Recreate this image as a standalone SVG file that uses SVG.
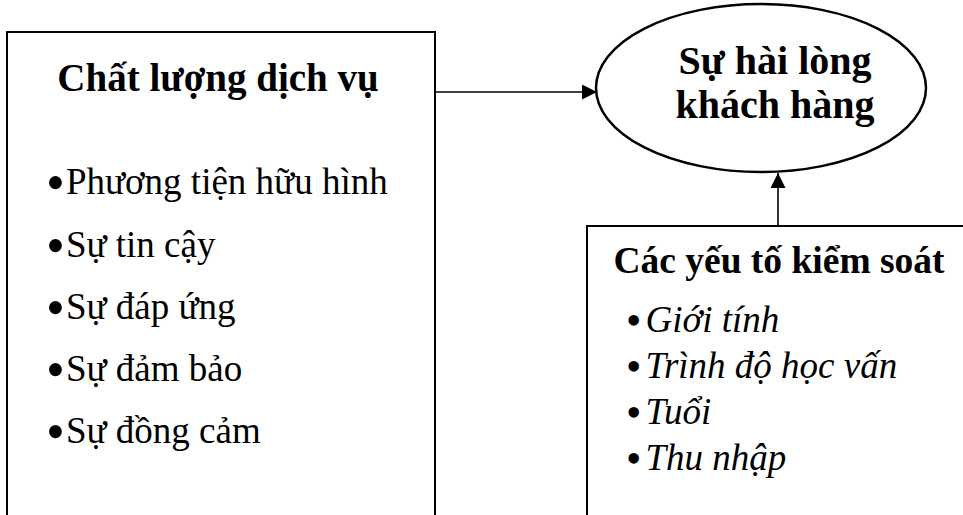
<svg xmlns="http://www.w3.org/2000/svg" width="963" height="515" viewBox="0 0 963 515">
<defs>
<marker id="ah" markerWidth="15" markerHeight="15" refX="10" refY="5" orient="auto" markerUnits="userSpaceOnUse" viewBox="0 0 10 10">
<path d="M0,0 L10,5 L0,10 Z" fill="#000"/>
</marker>
</defs>
<rect width="963" height="515" fill="#fff"/>
<g id="quality" font-family="'Liberation Serif', serif" fill="#000">
<rect x="7" y="32" width="428" height="500" fill="#fff" stroke="#000" stroke-width="2"/>
<text x="218" y="91" text-anchor="middle" font-size="39" font-weight="bold">Chất lượng dịch vụ</text>
<text x="46" y="194" font-size="37"><tspan dy="7" font-size="54">•</tspan><tspan dy="-7" dx="1">Phương tiện hữu hình</tspan></text>
<text x="46" y="257" font-size="37"><tspan dy="7" font-size="54">•</tspan><tspan dy="-7" dx="1">Sự tin cậy</tspan></text>
<text x="46" y="319" font-size="37"><tspan dy="7" font-size="54">•</tspan><tspan dy="-7" dx="1">Sự đáp ứng</tspan></text>
<text x="46" y="381" font-size="37"><tspan dy="7" font-size="54">•</tspan><tspan dy="-7" dx="1">Sự đảm bảo</tspan></text>
<text x="46" y="443" font-size="37"><tspan dy="7" font-size="54">•</tspan><tspan dy="-7" dx="1">Sự đồng cảm</tspan></text>
</g>
<g id="satisfaction" font-family="'Liberation Serif', serif" fill="#000">
<ellipse cx="761" cy="88" rx="165" ry="84" fill="#fff" stroke="#000" stroke-width="2.5"/>
<text x="775" y="74" text-anchor="middle" font-size="40" font-weight="bold">Sự hài lòng</text>
<text x="775" y="118" text-anchor="middle" font-size="40" font-weight="bold">khách hàng</text>
</g>
<g id="controls" font-family="'Liberation Serif', serif" fill="#000">
<rect x="587" y="226" width="400" height="310" fill="#fff" stroke="#000" stroke-width="2"/>
<text x="779" y="273" text-anchor="middle" font-size="37.5" font-weight="bold">Các yếu tố kiểm soát</text>
<text x="626" y="332" font-size="37"><tspan dy="3" font-size="44">•</tspan><tspan dy="-3" dx="4" font-style="italic">Giới tính</tspan></text>
<text x="626" y="378" font-size="37"><tspan dy="3" font-size="44">•</tspan><tspan dy="-3" dx="4" font-style="italic">Trình độ học vấn</tspan></text>
<text x="626" y="424" font-size="37"><tspan dy="3" font-size="44">•</tspan><tspan dy="-3" dx="4" font-style="italic">Tuổi</tspan></text>
<text x="626" y="470" font-size="37"><tspan dy="3" font-size="44">•</tspan><tspan dy="-3" dx="4" font-style="italic">Thu nhập</tspan></text>
</g>
<g id="connectors" stroke="#000" stroke-width="1.6" fill="none">
<line x1="435" y1="92" x2="597" y2="92" marker-end="url(#ah)"/>
<line x1="778" y1="226" x2="778" y2="173" marker-end="url(#ah)"/>
</g>
</svg>
